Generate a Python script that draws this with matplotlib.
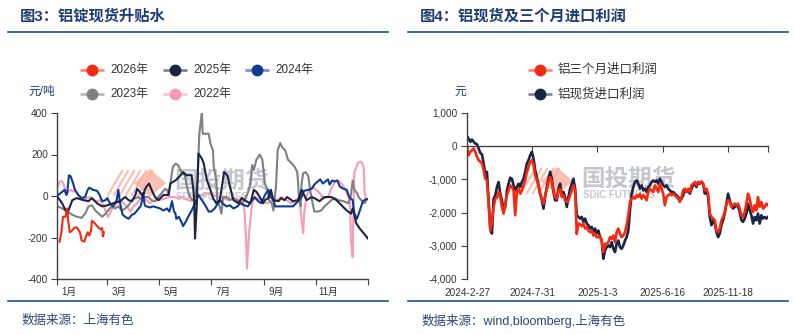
import numpy as np
import matplotlib
matplotlib.use("Agg")
import matplotlib.pyplot as plt
import matplotlib.colors as mcolors
from matplotlib.lines import Line2D
from matplotlib.patches import Polygon
from matplotlib.ticker import FuncFormatter

plt.rcParams["font.family"] = ["Liberation Sans", "Noto Sans CJK SC"]
plt.rcParams["axes.unicode_minus"] = False

# ---------------- Figure 3: aluminium ingot spot premium / discount by year ----------------
days_2026 = [3, 5, 7, 10, 12, 13, 15, 18, 20, 23, 27, 29, 32, 34, 36, 38, 40, 41, 44, 47, 51, 53, 54, 55]
prem_2026 = [-220, -180, -100, -100, -60, -115, -175, -165, -155, -150, -175, -215, -220, -195, -175, -190,
             -165, -120, -130, -145, -160, -155, -195, -175]

days_2025 = [0, 6, 12, 18, 23, 31, 37, 41, 47, 53, 59, 66, 74, 80, 84, 88, 92, 94, 98, 101, 103, 105, 108, 111,
             115, 119, 125, 131, 133, 139, 144, 148, 152, 158, 160, 161, 162, 164, 166, 170, 172, 176, 180, 183,
             187, 191, 193, 196, 200, 203, 207, 213, 217, 222, 227, 231, 234, 238, 242, 244, 248, 251, 254, 260,
             263, 267, 270, 277, 283, 287, 290, 293, 299, 302, 308, 314, 322, 328, 334, 340, 345, 347, 349, 351,
             355, 359, 363, 365]
prem_2025 = [0, -35, -85, -20, -10, -20, -25, -10, -35, -50, -45, -35, -25, -5, -20, -25, 5, 35, 15, -5, 30, 45,
             60, 30, -5, -20, 5, 5, 60, 75, 95, 115, 100, 100, 30, -20, -205, -50, 205, 180, 160, 75, 30, -10,
             -35, -20, 30, 115, 100, 45, -20, -35, -10, -25, -35, 30, 20, -5, -35, -20, -10, 30, -20, -25, -10,
             -20, -5, -25, -20, 30, 5, -20, -5, -10, -25, -5, -5, -20, -45, -70, -85, -60, -90, -130, -155,
             -175, -195, -205]

days_2024 = [0, 6, 9, 11, 12, 14, 16, 19, 21, 25, 29, 33, 36, 38, 42, 47, 50, 53, 57, 59, 62, 66, 70, 72, 74, 77,
             80, 84, 88, 91, 94, 98, 100, 101, 103, 105, 109, 113, 117, 121, 125, 129, 132, 135, 137, 139, 140,
             143, 146, 148, 151, 154, 158, 162, 166, 170, 174, 178, 181, 185, 189, 192, 194, 199, 203, 207, 212,
             215, 220, 224, 228, 232, 236, 240, 244, 248, 251, 254, 256, 262, 269, 277, 283, 287, 290, 295, 299,
             302, 306, 309, 312, 315, 318, 320, 323, 326, 329, 332, 336, 340, 343, 347, 349, 352, 355, 359, 363,
             365]
prem_2024 = [0, 20, 30, 5, 15, 100, 95, 60, 30, 5, -10, -5, 30, 40, 30, 25, 5, -25, -20, -10, -35, -50, -20, 30,
             -35, -90, -100, -110, -90, -85, -70, -50, -20, 15, -45, -50, -55, -50, -55, -60, -70, -60, -75, -25,
             -70, -85, -110, -100, -125, -145, -125, -100, -70, -35, 5, -20, -45, -75, -75, -60, -35, -20, -35,
             -50, -45, -60, -50, -35, -45, -50, -25, -5, -25, -35, 5, 30, -5, -20, -50, -50, -50, -50, -25, -5,
             25, 30, 35, 55, 70, 80, 60, 70, 80, 55, 75, 70, 75, 45, 35, 30, -5, -20, -85, -110, -75, -25, -15,
             -15]

days_2023 = [1, 6, 12, 18, 23, 29, 33, 37, 41, 45, 49, 53, 57, 60, 64, 68, 72, 76, 80, 84, 88, 92, 96, 100, 103,
             107, 111, 115, 119, 123, 127, 129, 131, 133, 136, 139, 142, 146, 150, 153, 156, 159, 162, 165, 167,
             169, 170, 171, 178, 180, 183, 184, 187, 188, 191, 193, 195, 199, 203, 207, 213, 217, 220, 224, 227,
             229, 231, 234, 238, 241, 244, 247, 249, 252, 254, 257, 259, 262, 265, 268, 271, 275, 279, 282, 284,
             286, 287, 289, 292, 295, 297, 300, 302, 306, 310, 314, 318, 322, 326, 330, 336, 342, 345, 347, 349,
             352, 354, 357, 361, 363]
prem_2023 = [-50, -60, -75, -90, -100, -105, -85, -50, -45, -70, -85, -100, -85, -70, -50, -60, -50, -70, -60,
             -45, -20, -10, -5, -20, -5, -5, -20, -25, -5, 15, 35, 30, 5, 60, 140, 155, 150, 115, 100, 35, -5,
             -20, -5, 75, 300, 365, 400, 300, 300, 255, 220, 140, 75, -20, -50, -85, -5, -5, -20, -10, -25, -35,
             -20, 15, 60, 150, 125, 175, 200, 175, 60, 30, -20, -35, -70, 45, 220, 255, 230, 220, 175, 160, 140,
             115, -5, -50, 60, 110, 115, 95, 30, -35, -75, -75, -70, -50, -35, -20, -10, -20, -25, -35, 5, 75,
             30, 15, -5, -20, -35, -20]

days_2022 = [1, 3, 6, 8, 10, 12, 16, 19, 21, 23, 27, 31, 35, 39, 43, 47, 51, 55, 58, 60, 62, 66, 70, 74, 78, 82,
             86, 90, 94, 98, 101, 105, 109, 113, 119, 125, 131, 137, 142, 148, 154, 158, 162, 166, 172, 178, 183,
             189, 195, 201, 207, 213, 217, 220, 222, 223, 224, 226, 228, 230, 234, 240, 246, 252, 258, 263, 269,
             275, 281, 283, 285, 287, 289, 290, 293, 297, 300, 304, 308, 313, 318, 322, 326, 330, 334, 338, 342,
             344, 345, 347, 348, 349, 351, 353, 356, 358, 360, 361, 363]
prem_2022 = [45, 70, 70, 55, 15, 15, 30, 20, 35, 15, -10, -20, -10, -5, -20, -25, -20, -50, -85, -100, -85, -50,
             -35, -20, -35, -50, -75, -50, -35, -10, -5, -20, -35, -25, -20, -15, -5, -5, -10, -5, -20, -25, -5,
             5, 5, 15, 5, -5, -10, -20, -10, -20, -5, -70, -215, -350, -275, -150, -70, -20, -10, -20, -35, -25,
             -20, -5, -20, -35, -20, -10, -35, -115, -180, -85, 5, 30, 45, 30, 15, -10, -5, 35, 70, 75, 60, 35,
             -5, -35, -215, -295, -50, 115, 135, 160, 165, 160, 135, 15, -20]

year_labels = ["2026年", "2025年", "2024年", "2023年", "2022年"]
year_colors = ["#F8280E", "#1C2444", "#0C3C94", "#808080", "#F89BB4"]

month_starts = [0, 59, 120, 181, 243, 304, 365]
month_mids = [14, 73, 134, 195, 257, 318]
month_labels = ["1月", "3月", "5月", "7月", "9月", "11月"]

# ---------------- Figure 4: aluminium import profit (spot and 3-month) ----------------
profit_spot = [300, 230, 130, 200, 130, 80, 60, -70, -200, -250,
               -520, -825, -775, -1630, -2480, -2630, -1580, -1480, -1230, -1080,
               -1430, -1630, -1930, -1830, -1330, -1130, -950, -980, -1180, -1330,
               -1230, -1130, -1230, -1080, -980, -770, -520, -420, -270, -170,
               -370, -720, -930, -1180, -1430, -1630, -1880, -1530, -1230, -980,
               -770, -980, -1380, -1630, -1630, -1280, -1130, -1480, -1380, -1530,
               -1830, -1530, -1280, -1130, -980, -1280, -2080, -2130, -2180, -2130,
               -2280, -2180, -2330, -2380, -2480, -2430, -2590, -2480, -2630, -2540,
               -2740, -2840, -3390, -3140, -3040, -2990, -3040, -2890, -3090, -3190,
               -2940, -2840, -3040, -3090, -2990, -2840, -2740, -2540, -1930, -1430,
               -1230, -1080, -1030, -1130, -1280, -1180, -1330, -1280, -1380, -1230,
               -1180, -1080, -1030, -1080, -1030, -1130, -980, -1080, -1180, -1230,
               -1180, -1280, -1330, -1380, -1380, -1430, -1480, -1530, -1630, -1580,
               -1480, -1330, -1380, -1330, -1430, -1280, -1180, -1130, -1230, -1080,
               -1130, -1080, -1130, -1430, -1330, -1530, -2130, -2380, -2230, -2330,
               -2590, -2740, -2630, -2380, -2230, -2030, -1730, -1430, -1630, -1780,
               -1880, -1830, -1780, -1830, -1980, -2230, -2280, -2180, -2030, -1730,
               -1930, -2080, -2330, -2130, -2230, -2030, -2330, -2080, -2180, -2130,
               -2180, -2130]
profit_3m = [-20, -270, -170, -120, -70, -170, -320, -420, -470, -520,
             -720, -980, -1030, -1730, -2540, -2280, -1830, -1580, -1550, -1380,
             -1530, -1830, -2030, -1730, -1480, -1330, -1180, -1230, -1330, -2080,
             -1380, -1280, -1430, -1330, -1180, -1030, -770, -620, -470, -420,
             -570, -880, -1030, -1180, -1430, -1580, -1730, -1480, -1280, -1080,
             -930, -1080, -1330, -1530, -1580, -1330, -1280, -1530, -1480, -1630,
             -1680, -1630, -1480, -1330, -1180, -1330, -2640, -2330, -2350, -2410,
             -2330, -2480, -2430, -2540, -2590, -2540, -2690, -2640, -2740, -2740,
             -2690, -2840, -3190, -2940, -2940, -2890, -2740, -2790, -2690, -2890,
             -2590, -2480, -2640, -2740, -2690, -2590, -2380, -2080, -1680, -1580,
             -1530, -1580, -1480, -1530, -1430, -1580, -1480, -1530, -1630, -1380,
             -1280, -1330, -1380, -1180, -1280, -1380, -1130, -1280, -1430, -1780,
             -1530, -1480, -1430, -1480, -1430, -1480, -1530, -1580, -1680, -1530,
             -1330, -1280, -1380, -1280, -1380, -1180, -1130, -1080, -1180, -1080,
             -1110, -1060, -1130, -1330, -1280, -1430, -2030, -2130, -2180, -2230,
             -2540, -2590, -2480, -2230, -2130, -1980, -1730, -1630, -1680, -1830,
             -1780, -1730, -1780, -1730, -1880, -2080, -2130, -1980, -1730, -1430,
             -1580, -1830, -1980, -1780, -1930, -1530, -1830, -1680, -1880, -1830,
             -1730, -1780]
profit_labels = ["铝三个月进口利润", "铝现货进口利润"]
profit_colors = ["#F8280E", "#1C2444"]
date_labels = ["2024-2-27", "2024-7-31", "2025-1-3", "2025-6-16", "2025-11-18"]
date_label_pos = [0, 39.2, 78.4, 117.6, 156.8]

# ---------------- layout helpers (pixel coordinates, origin top-left) ----------------
W, H = 794, 335
fig = plt.figure(figsize=(W / 100, H / 100), dpi=100)


def fx(px):
    return px / W


def fy(py):
    return 1 - py / H


TITLE_C = "#1F3B73"
RULE_C = "#1F4E9C"
TEXT_C = "#333333"
AXIS_C = "#404040"


def tint(c, f=0.5):
    r, g, b = mcolors.to_rgb(c)
    return (r + (1 - r) * f, g + (1 - g) * f, b + (1 - b) * f)


def legend_entry(xc, yc, color, label, fs):
    fig.add_artist(Line2D([fx(xc - 12), fx(xc + 12)], [fy(yc), fy(yc)], color=tint(color, 0.45),
                          lw=2.0, solid_capstyle="butt"))
    fig.add_artist(Line2D([fx(xc)], [fy(yc)], marker="o", markersize=7.5, color=color,
                          markeredgecolor=color, lw=0))
    fig.text(fx(xc + 18), fy(yc), label, fontsize=fs, color=TEXT_C, va="center", ha="left")


def logo(ax, x0, yc):
    # hatched wedge
    for i in range(6):
        ax.add_line(Line2D([fx(x0 + 6 * i), fx(x0 + 6 * i + 14)], [fy(yc + 12), fy(yc - 12)],
                           transform=fig.transFigure, color="#F7A896", lw=1.5, alpha=0.75, zorder=1))
    ax.add_patch(Polygon([(fx(x0 + 42), fy(yc - 14)), (fx(x0 + 58), fy(yc)), (fx(x0 + 42), fy(yc + 14)),
                          (fx(x0 + 26), fy(yc))], closed=True, transform=fig.transFigure,
                         facecolor="#F7B2A2", edgecolor="none", alpha=0.8, zorder=1))
    ax.text(fx(x0 + 66), fy(yc - 2), "国投期货", transform=fig.transFigure, fontsize=17, weight="bold",
            color="#C4C7CF", va="center", ha="left", zorder=1, family=["Noto Sans CJK SC"])
    ax.text(fx(x0 + 68), fy(yc + 14), "SDIC FUTURES", transform=fig.transFigure, fontsize=7, weight="bold",
            color="#C4C7CF", va="center", ha="left", zorder=1)


def frame(x_left, x_right, title):
    fig.text(fx(x_left + 12), fy(16), title, fontsize=11, weight="bold", color=TITLE_C, va="center", ha="left")
    fig.add_artist(Line2D([fx(x_left), fx(x_right)], [fy(32), fy(32)], color=RULE_C, lw=1.2))
    fig.add_artist(Line2D([fx(x_left), fx(x_right)], [fy(301), fy(301)], color=RULE_C, lw=1.2))


fmt = FuncFormatter(lambda v, p: f"{v:,.0f}")

# ---------------- left panel ----------------
frame(8, 388, "图3：铝锭现货升贴水")
fig.text(fx(22), fy(321), "数据来源：上海有色", fontsize=9, color="#2F4478", va="center", ha="left")

ax1 = fig.add_axes([fx(57), fy(279), fx(368) - fx(57), fy(113) - fy(279)])
series_left = [(days_2022, prem_2022, 4), (days_2023, prem_2023, 3), (days_2024, prem_2024, 2),
               (days_2025, prem_2025, 1), (days_2026, prem_2026, 0)]
for d, v, k in series_left:
    ax1.plot(d, v, color=year_colors[k], lw=1.5, solid_joinstyle="round", zorder=2 + (4 - k) * 0.1)
ax1.set_xlim(0, 365)
ax1.set_ylim(-400, 400)
ax1.set_yticks([-400, -200, 0, 200, 400])
ax1.yaxis.set_major_formatter(fmt)
ax1.set_xticks(month_starts)
ax1.set_xticklabels([])
ax1.set_xticks(month_mids, minor=True)
ax1.set_xticklabels(month_labels, minor=True)
for s in ("top", "right"):
    ax1.spines[s].set_visible(False)
for s in ("left", "bottom"):
    ax1.spines[s].set_color(AXIS_C)
    ax1.spines[s].set_linewidth(1.0)
ax1.tick_params(axis="both", which="major", direction="out", length=4, width=0.8, color=AXIS_C,
                labelsize=7.2, labelcolor=TEXT_C, pad=2.5)
ax1.tick_params(axis="x", which="minor", length=0, labelsize=7, labelcolor=TEXT_C, pad=6)
ax1.patch.set_alpha(0)
logo(ax1, 108, 183)

for i, (lab, col) in enumerate(zip(year_labels, year_colors)):
    row, colpos = divmod(i, 3)
    legend_entry([92, 175, 257][colpos], [70, 94][row], col, lab, 8.5)
fig.text(fx(42), fy(92), "元/吨", fontsize=8.5, color=TITLE_C, va="center", ha="center")

# ---------------- right panel ----------------
frame(408, 788, "图4：铝现货及三个月进口利润")
fig.text(fx(422), fy(321), "数据来源：wind,bloomberg,上海有色", fontsize=9, color="#2F4478",
         va="center", ha="left")

ax2 = fig.add_axes([fx(467), fy(279), fx(768) - fx(467), fy(113) - fy(279)])
x_obs = np.arange(len(profit_spot))
ax2.plot(x_obs, profit_spot, color=profit_colors[1], lw=1.9, solid_joinstyle="round", zorder=2)
ax2.plot(np.arange(len(profit_3m)), profit_3m, color=profit_colors[0], lw=1.9, solid_joinstyle="round",
         zorder=2.1)
ax2.set_xlim(0, len(profit_spot) - 1)
ax2.set_ylim(-4000, 1000)
ax2.set_yticks([-4000, -3000, -2000, -1000, 0, 1000])
ax2.yaxis.set_major_formatter(fmt)
for s in ("top", "right"):
    ax2.spines[s].set_visible(False)
for s in ("left", "bottom"):
    ax2.spines[s].set_color(AXIS_C)
    ax2.spines[s].set_linewidth(1.0)
ax2.spines["bottom"].set_position(("data", 0))
ax2.set_xticks(date_label_pos[1:] + [len(profit_spot) - 1])
ax2.set_xticklabels([])
ax2.tick_params(axis="both", direction="out", length=4, width=0.8, color=AXIS_C,
                labelsize=7.2, labelcolor=TEXT_C, pad=3)
sec = ax2.secondary_xaxis("bottom")
sec.set_xticks(date_label_pos)
sec.set_xticklabels(date_labels)
sec.tick_params(length=0, pad=6.5, labelsize=7.2, labelcolor=TEXT_C)
sec.spines["bottom"].set_visible(False)
ax2.patch.set_alpha(0)
logo(ax2, 515, 181)

for i, (lab, col) in enumerate(zip(profit_labels, profit_colors)):
    legend_entry(540, [70, 94][i], col, lab, 9)
fig.text(fx(460), fy(92), "元", fontsize=8.5, color=TITLE_C, va="center", ha="center")

fig.savefig("out.png", dpi=100)
